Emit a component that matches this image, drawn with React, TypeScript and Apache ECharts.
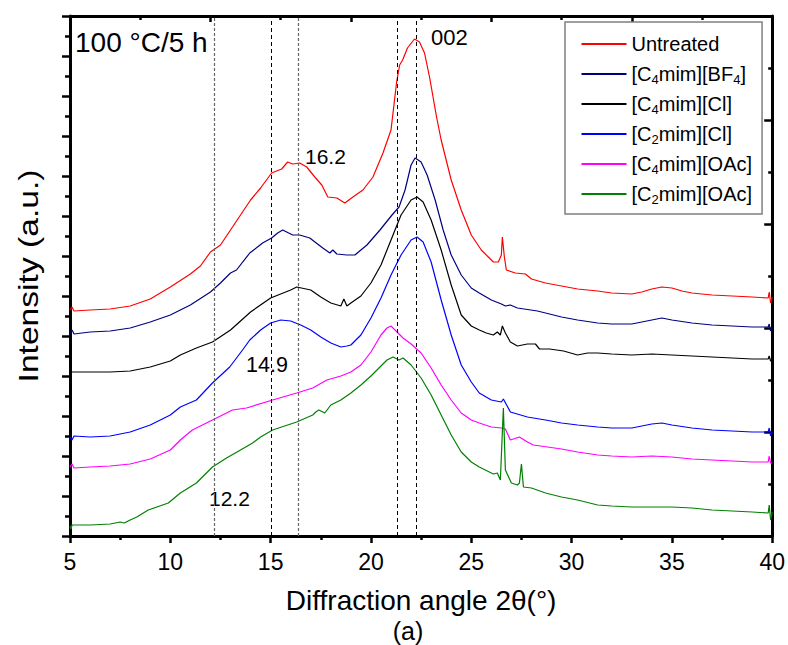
import React, { useEffect, useRef } from "react";
import * as echarts from "echarts";

// ---------- data (intensity in arbitrary units vs 2θ in degrees) ----------
const seriesNames = ["Untreated", "[C4mim][BF4]", "[C4mim][Cl]", "[C2mim][Cl]", "[C4mim][OAc]", "[C2mim][OAc]"];
const legendLabels = ["Untreated", "[C{s|4}mim][BF{s|4}]", "[C{s|4}mim][Cl]", "[C{s|2}mim][Cl]", "[C{s|4}mim][OAc]", "[C{s|2}mim][OAc]"];
const seriesColors = ["#ff0000", "#000080", "#000000", "#0000ff", "#ff00ff", "#008000"];

const untreated: number[][] = [[5,226],[5.1,229],[5.2,225],[6,226],[7,227],[8,230],[9,237],[10,249],[11,262],[11.5,270],[12,284],[12.5,291],[13.1,309],[14,336],[14.5,348],[15.05,363],[15.55,367],[15.85,374],[16.1,372],[16.45,373],[16.8,369],[17.2,359],[17.55,351],[17.85,339],[18.3,338],[18.7,333],[19.1,339],[19.6,346],[20.1,359],[20.6,383],[21.0,406],[21.28,454],[21.43,471],[21.58,476],[21.82,488],[22.17,497],[22.42,494],[22.67,483],[22.92,459],[23.27,419],[23.5,396],[24,356],[24.5,326],[25,301],[25.5,286],[25.9,278],[26.1,274],[26.35,274],[26.5,281],[26.55,299],[26.65,279],[26.75,266],[27.2,263],[27.7,262],[28,257],[28.7,253],[29.5,250],[30.3,247],[31.3,245],[32,243],[33,242],[33.5,244],[34,247],[34.5,249],[35,248],[35.5,245],[36,243],[37,241],[38,240],[39,239],[39.8,238],[39.85,244],[39.92,233],[40,239]];
const c4mimBF4: number[][] = [[5,203],[5.1,206],[5.2,202],[6,204],[7,205],[8,208],[9,214],[10,221],[11,231],[12,244],[12.5,253],[13,263],[13.3,266],[13.96,283],[14.6,293],[15.05,298],[15.35,303],[15.6,306],[16.1,301],[16.45,301],[16.95,298],[17.6,288],[17.95,283],[18.1,286],[18.3,282],[18.8,281],[19.2,281],[19.8,291],[20.45,306],[21.05,321],[21.4,329],[21.7,346],[22.0,371],[22.2,378],[22.5,374],[22.8,361],[23.2,336],[23.6,306],[24,281],[24.5,261],[25,248],[25.4,243],[26,236],[26.5,232],[26.7,230],[26.95,231],[27.3,228],[28.3,225],[29.5,219],[30.3,216],[31.3,213],[32,212],[33,212],[34,216],[34.5,218],[35,216],[36,213],[37,211],[38,210],[39,209],[39.8,209],[39.85,212],[39.92,205],[40,209]];
const c4mimCl: number[][] = [[5,164],[6,164],[7,164],[8,165],[9,169],[10,175],[10.5,181],[11.3,188],[12.1,194],[13,206],[14,224],[15,238],[16,246],[16.3,249],[17,246],[17.5,239],[18,233],[18.5,230],[18.65,237],[18.8,230],[19,233],[19.5,240],[20,253],[20.5,271],[21,296],[21.5,321],[22,336],[22.3,339],[22.6,334],[23,316],[23.5,286],[24,251],[24.5,221],[25,210],[25.4,206],[25.75,203],[26.1,201],[26.3,204],[26.45,201],[26.55,210],[26.7,203],[26.95,194],[27.3,190],[27.8,192],[28.2,192],[28.4,187],[28.9,187],[29.6,185],[30.3,181],[30.8,183],[31.3,183],[32,182],[33,181],[34,182],[35,181],[36,180],[37,179],[38,178],[39,177],[39.8,177],[39.85,180],[39.92,175],[40,176]];
const c2mimCl: number[][] = [[5,99],[5.1,96],[5.2,100],[6,99],[7,100],[8,104],[9,111],[10,121],[10.5,129],[11.3,136],[12.1,153],[12.96,169],[13.6,186],[13.96,196],[14.5,206],[15,213],[15.5,216],[16,215],[16.5,211],[17,206],[17.5,199],[18,193],[18.5,189],[18.8,190],[19,191],[19.5,201],[20,218],[20.5,238],[21,261],[21.5,281],[22,296],[22.3,299],[22.6,294],[23,274],[23.5,236],[24,201],[24.5,171],[25,154],[25.4,143],[26,136],[26.5,134],[26.6,137],[26.95,124],[27.8,119],[28.7,116],[29.5,113],[30.3,111],[31.3,109],[32,108],[33,108],[34,112],[34.5,113],[35,111],[36,108],[37,106],[38,105],[39,104],[39.8,104],[39.85,108],[39.92,100],[40,104]];
const c4mimOAc: number[][] = [[5,69],[5.1,72],[5.2,68],[6,69],[7,70],[8,72],[9,77],[10,86],[10.5,96],[11.1,106],[12.1,116],[13.1,126],[13.8,128],[15.1,136],[16.3,143],[17.1,148],[17.8,156],[18.5,160],[19,164],[19.5,171],[20,184],[20.5,201],[20.8,208],[21.0,210],[21.3,204],[21.6,198],[22,192],[22.5,183],[23,168],[23.5,151],[24,136],[24.5,123],[25,116],[25.4,113],[26,109],[26.5,108],[26.7,107],[26.95,96],[27.4,99],[27.8,94],[28.1,91],[29.5,87],[30.3,84],[31.3,81],[32,80],[33,79],[34,80],[35,79],[36,77],[37,76],[38,75],[39,74],[39.8,74],[39.85,80],[39.92,73],[40,73]];
const c2mimOAc: number[][] = [[5,10],[5.05,7],[5.1,11],[6,11],[7,12],[7.5,14],[7.7,13],[8,16],[8.33,19],[8.9,26],[9.9,33],[10.5,43],[11.3,53],[12.1,69],[12.8,78],[13.5,86],[14.1,93],[14.5,99],[15.1,106],[16.3,114],[17.1,121],[17.25,124],[17.4,126],[17.7,123],[18,131],[18.5,136],[19,143],[19.5,151],[20,160],[20.5,170],[20.8,176],[21.1,179],[21.4,176],[21.6,178],[22,171],[22.5,158],[23,141],[23.5,121],[24,101],[24.5,84],[25,74],[25.4,69],[25.9,64],[26.1,62],[26.3,63],[26.45,56],[26.6,128],[26.7,66],[27,53],[27.3,51],[27.4,53],[27.5,72],[27.6,49],[28,48],[28.7,43],[29.5,39],[30.3,36],[31.3,31],[32,30],[33,29],[34,29],[35,29],[36,28],[37,26],[38,25],[39,24],[39.8,23],[39.85,31],[39.92,16],[40,24]];

const seriesData = [untreated, c4mimBF4, c4mimCl, c2mimCl, c4mimOAc, c2mimOAc];

// reference (dashed) lines at 2θ positions, and whether drawn dark
const refLines = [12.2, 15.05, 16.4, 21.3, 22.25];
const refLineDark = [false, true, false, true, true];

// peak annotations
const peakLabels = ["16.2", "002", "14.9", "12.2"];

const FONT = "'Liberation Sans', Arial, sans-serif";
const NARROW = "'Liberation Sans Narrow', 'Liberation Sans', Arial, sans-serif";

export default function App() {
  const ref = useRef<HTMLDivElement>(null);
  useEffect(() => {
    if (!ref.current) return;
    const chart = echarts.init(ref.current, undefined, { renderer: "svg" });
    const axisLine = { show: true, onZero: false, lineStyle: { color: "#000", width: 3 } };
    const tickStyle = { color: "#000", width: 2.5 };
    const option: any = {
      animation: false,
      backgroundColor: "#fff",
      grid: { left: 70, top: 16, right: 15, bottom: 109, containLabel: false },
      xAxis: [
        {
          type: "value", position: "bottom", min: 5, max: 40, interval: 5,
          axisLine, axisTick: { show: true, inside: false, length: 7, lineStyle: tickStyle },
          minorTick: { show: true, splitNumber: 2, length: 4, lineStyle: tickStyle },
          splitLine: { show: false }, minorSplitLine: { show: false },
          axisLabel: { color: "#000", fontSize: 23, fontFamily: NARROW, margin: 14 },
          name: "Diffraction angle 2θ(°)", nameLocation: "middle", nameGap: 50,
          nameTextStyle: { color: "#000", fontSize: 28, fontFamily: FONT, lineHeight: 28 },
        },
        {
          type: "value", position: "top", min: 5, max: 40, interval: 7,
          axisLine, axisTick: { show: true, inside: true, length: 6, lineStyle: tickStyle },
          minorTick: { show: true, splitNumber: 2, length: 4, lineStyle: tickStyle },
          splitLine: { show: false }, axisLabel: { show: false },
        },
      ],
      yAxis: [
        {
          type: "value", position: "left", min: 0, max: 520, interval: 40,
          axisLine, axisTick: { show: true, inside: false, length: 8, lineStyle: tickStyle },
          minorTick: { show: true, splitNumber: 2, length: 5, lineStyle: tickStyle },
          splitLine: { show: false }, axisLabel: { show: false },
        },
        {
          type: "value", position: "right", min: 0, max: 520, interval: 104,
          axisLine, axisTick: { show: true, inside: true, length: 8, lineStyle: tickStyle },
          minorTick: { show: true, splitNumber: 2, length: 4, lineStyle: tickStyle },
          splitLine: { show: false }, axisLabel: { show: false },
        },
      ],
      legend: {
        orient: "vertical", left: 565, top: 22,
        padding: [10, 10, 8, 16.5],
        itemWidth: 45, itemHeight: 2, itemGap: 6, icon: "rect",
        borderColor: "#808080", borderWidth: 1.5, backgroundColor: "#fff",
        data: seriesNames,
        formatter: (name: string) => legendLabels[seriesNames.indexOf(name)],
        textStyle: {
          fontSize: 20, fontFamily: FONT, color: "#000", lineHeight: 24,
          rich: { s: { fontSize: 13, fontFamily: FONT, color: "#000", lineHeight: 12, verticalAlign: "bottom" } },
        },
      },
      series: seriesNames.map((name, i) => ({
        name, type: "line", data: seriesData[i], xAxisIndex: 0, yAxisIndex: 0,
        showSymbol: false, symbol: "none",
        lineStyle: { color: seriesColors[i], width: 1.2 }, itemStyle: { color: seriesColors[i] },
        z: 3,
        markLine: i === 0 ? {
          silent: true, symbol: ["none", "none"], label: { show: false },
          data: refLines.map((x, k) => ({
            xAxis: x,
            lineStyle: refLineDark[k]
              ? { color: "#000", type: [4, 3], width: 1 }
              : { color: "#666", type: [3, 2], width: 1.2 },
          })),
        } : undefined,
      })),
      graphic: [
        { type: "text", left: 75, top: 28, style: { text: "100 °C/5 h", font: `28px ${FONT}`, fill: "#000" } },
        { type: "text", x: 305, y: 156, style: { text: peakLabels[0], font: `21px ${FONT}`, fill: "#000", verticalAlign: "middle" } },
        { type: "text", x: 431, y: 37, style: { text: peakLabels[1], font: `22px ${FONT}`, fill: "#000", verticalAlign: "middle" } },
        { type: "text", x: 246, y: 365, style: { text: peakLabels[2], font: `21.5px ${FONT}`, fill: "#000", verticalAlign: "middle" } },
        { type: "text", x: 209, y: 498, style: { text: peakLabels[3], font: `21px ${FONT}`, fill: "#000", verticalAlign: "middle" } },
        {
          type: "text", x: 28, y: 276, rotation: Math.PI / 2, scaleX: 1.245,
          style: { text: "Intensity (a.u.)", font: `27px ${FONT}`, fill: "#000", align: "center", verticalAlign: "middle" },
        },
        { type: "text", x: 408, y: 631, style: { text: "(a)", font: `25px ${FONT}`, fill: "#000", align: "center", verticalAlign: "middle" } },
      ],
    };
    chart.setOption(option);
    return () => chart.dispose();
  }, []);
  return <div ref={ref} style={{ position: "fixed", left: 0, top: 0, width: 788, height: 645 }} />;
}
